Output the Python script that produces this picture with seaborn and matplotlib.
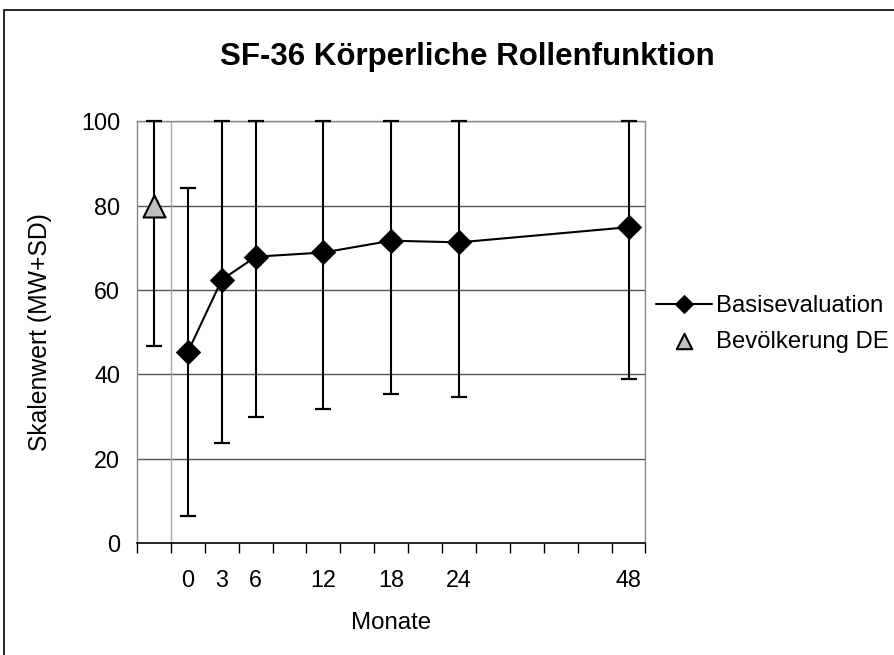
import matplotlib
matplotlib.use("Agg")
import matplotlib.pyplot as plt
from matplotlib.patches import Rectangle
import numpy as np
import pandas as pd
import seaborn as sns

# Category slots along the x axis (one slot per 3-month step, plus the reference group)
categories = ["DE", "0", "3", "6", "9", "12", "15", "18", "21", "24", "30", "36", "40", "44", "48"]
shown_labels = ["", "0", "3", "6", "", "12", "", "18", "", "24", "", "", "", "", "48"]

# Follow-up visits (months) with mean and standard deviation
months = ["0", "3", "6", "12", "18", "24", "48"]
basis_mean = [45.3, 62.4, 67.9, 68.9, 71.7, 71.3, 74.9]
basis_sd = [38.8, 38.6, 38.0, 37.2, 36.3, 36.8, 36.1]

# German population norm
pop_mean = [80.0]
pop_sd = [33.3]

y_max = 100

sns.set_theme(style="white")
plt.rcParams["font.family"] = ["Liberation Sans", "DejaVu Sans"]
plt.rcParams["text.color"] = "black"
plt.rcParams["axes.labelcolor"] = "black"
plt.rcParams["xtick.color"] = "black"
plt.rcParams["ytick.color"] = "black"

fig = plt.figure(figsize=(8.95, 6.55), dpi=100)
ax = fig.add_axes([137 / 895, 1 - 542.9 / 655, (645.5 - 137) / 895, (542.9 - 121.4) / 655])

basis = pd.DataFrame({
    "pos": [categories.index(m) for m in months],
    "mean": basis_mean,
    "sd": basis_sd,
})
pop = pd.DataFrame({"pos": [categories.index("DE")], "mean": pop_mean, "sd": pop_sd})


def draw_bars(df):
    upper = np.minimum(df["mean"] + df["sd"], y_max) - df["mean"]
    lower = df["sd"]
    ax.errorbar(df["pos"], df["mean"], yerr=[lower, upper], fmt="none",
                ecolor="black", elinewidth=1.5, capsize=5.8, capthick=1.6,
                zorder=3, clip_on=False)


draw_bars(basis)
draw_bars(pop)

sns.lineplot(data=basis, x="pos", y="mean", ax=ax, color="black", linewidth=1.5,
             marker="D", markersize=12.5, markerfacecolor="black",
             markeredgecolor="black", label="Basisevaluation", zorder=4)
sns.scatterplot(data=pop, x="pos", y="mean", ax=ax, marker="^", s=250,
                color="#c0c0c0", edgecolor="black", linewidth=1.5,
                label="Bevölkerung DE", zorder=5)

ax.set_xlim(-0.5, len(categories) - 0.5)
ax.set_ylim(0, y_max)

# horizontal gridlines
ax.set_yticks(range(0, 101, 20))
for v in range(20, 101, 20):
    ax.axhline(v, color="#555555", linewidth=1.0, zorder=1)
# separator between reference group and follow-up
ax.axvline(0.5, color="#a8a8a8", linewidth=1.0, zorder=1)

ax.set_xticks(range(len(categories)))
ax.set_xticklabels(shown_labels)
ax.set_xticks(np.arange(-0.5, len(categories), 1.0), minor=True)
ax.tick_params(axis="x", which="major", length=0, pad=19, labelsize=16.8, colors="black")
ax.tick_params(axis="x", which="minor", length=7, width=1.0, color="black", direction="out")
ax.tick_params(axis="y", length=0, pad=12, labelsize=16.8, colors="black")
ax.xaxis.set_ticks_position("bottom")

for side in ["left", "right", "top"]:
    ax.spines[side].set_color("#888888")
    ax.spines[side].set_linewidth(1.0)
ax.spines["bottom"].set_color("black")
ax.spines["bottom"].set_linewidth(1.2)

ax.set_xlabel("")
ax.set_ylabel("")
fig.text(391 / 895, 1 - 623 / 655, "Monate", ha="center", va="center", fontsize=17.3)
fig.text(40 / 895, 1 - 332 / 655, "Skalenwert (MW+SD)", ha="center", va="center",
         rotation=90, fontsize=17.8)
fig.text(467 / 895, 1 - 57 / 655, "SF-36 Körperliche Rollenfunktion", ha="center",
         va="center", fontsize=22.5, fontweight="bold")

handles, labels = ax.get_legend_handles_labels()
leg = ax.legend(handles, labels, loc="center left", bbox_to_anchor=(656 / 895, 1 - 324 / 655),
                bbox_transform=fig.transFigure, frameon=False, fontsize=17.2,
                handlelength=2.35, handletextpad=0.15, markerscale=0.7, labelspacing=0.55,
                borderpad=0, borderaxespad=0)
for t in leg.get_texts():
    t.set_color("black")

# chart frame
fig.patches.append(Rectangle((4 / 895, -0.1), 1.2, 1.1 - 10 / 655, transform=fig.transFigure,
                             fill=False, edgecolor="black", linewidth=1.2))

fig.savefig("out.png", dpi=100)
